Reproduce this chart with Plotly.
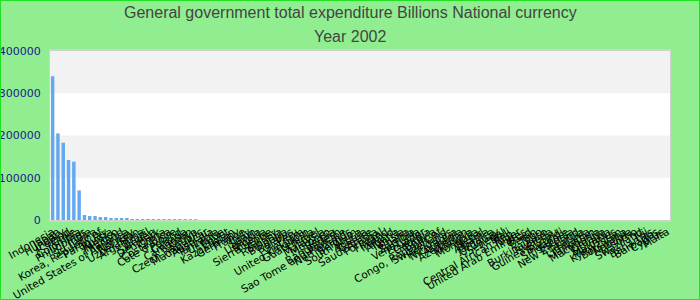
import plotly.graph_objects as go

countries = [
    "Indonesia", "Japan", "Hungary", "Iceland", "Chile", "Colombia", "Philippines", "India",
    "Sri Lanka", "Korea, Republic of", "Paraguay", "Russia", "Mexico", "Thailand",
    "United States of America", "Norway", "Uzbekistan", "Argentina", "Brazil", "Sweden",
    "Denmark", "China", "Costa Rica", "Cote d'Ivoire", "Poland", "Canada", "Cameroon", "Kenya",
    "Czech Republic", "Madagascar", "Australia", "Tanzania", "Ukraine", "Egypt", "Kazakhstan",
    "Germany", "France", "Italy", "Spain", "Uganda", "Nigeria", "Sierra Leone", "Turkey",
    "Romania", "Bulgaria", "Belarus", "Peru", "Vietnam", "United Kingdom", "Guatemala",
    "Israel", "Malaysia", "Morocco", "Serbia", "Bangladesh", "Sao Tome and Principe",
    "Netherlands", "Belgium", "South Africa", "Austria", "Greece", "Saudi Arabia", "Portugal",
    "Finland", "Ireland", "Algeria", "Tunisia", "Ghana", "Zambia", "Venezuela", "Ecuador",
    "Georgia", "Bolivia", "Congo, Republic of", "Switzerland", "Honduras", "Nicaragua",
    "Armenia", "Azerbaijan", "Moldova", "Mongolia", "Nepal", "Albania", "Jamaica", "Uruguay",
    "Senegal", "Mali", "Central African Rep.", "Niger", "United Arab Emirates", "Chad",
    "Benin", "Togo", "Burkina Faso", "Rwanda", "Guinea-Bissau", "Burundi", "Singapore",
    "Estonia", "New Zealand", "Latvia", "Lithuania", "Tajikistan", "Macedonia", "Croatia",
    "Slovakia", "Mauritius", "Kyrgyzstan", "Botswana", "Namibia", "Lesotho", "Swaziland",
    "Fiji", "Bahamas", "Barbados", "Cyprus", "Malta", "Trinidad and Tobago", "Kuwait", "Oman",
    "Bahrain", "Jordan", "Belize", "Bhutan", "Maldives", "Luxembourg", "Slovenia",
]

values = [
    340000, 205000, 183000, 142000, 138000, 70000, 11800, 9400,
    9400, 7000, 7000, 4700, 4700, 4700, 4700, 2400,
    2400, 2300, 2300, 2200, 2200, 2100, 2100, 2000,
    2000, 1900, 1900, 1800,
    150, 146, 142, 138, 134, 130, 126, 122, 118, 114,
    110, 107, 104, 101, 98, 95, 92, 89, 86, 83,
    80, 78, 76, 74, 72, 70, 68, 66, 64, 62,
    60, 58, 56, 54, 52, 50, 48, 46, 44, 42,
    40, 38, 36, 34, 32, 30, 28, 26, 24, 22,
    20, 19, 18, 17, 16, 15, 14, 13, 12, 11,
    10, 9.5, 9, 8.5, 8, 7.5, 7, 6.5, 6, 5.5,
    5, 4.5, 4, 3.6, 3.2, 2.8, 2.4, 2.0, 1.8, 1.6,
    1.4, 1.2, 1.0, 0.8, 0.6, 0.5, 0.4, 0.3, 0.2,
]

title_lines = ["General government total expenditure Billions National currency", "Year 2002"]
y_range = [0, 400000]
band_edges = [(100000, 200000), (300000, 400000)]

W, H = 700, 300
ML, MR, MT, MB = 50, 30, 51, 80
PW, PH = W - ML - MR, H - MT - MB

fig = go.Figure()
fig.add_trace(go.Bar(
    x=countries, y=values,
    marker=dict(color="rgba(100,168,240,0.999)", line=dict(width=0)),
    hoverinfo="x+y",
))

shapes = []
for lo, hi in band_edges:
    shapes.append(dict(type="rect", xref="paper", yref="y", x0=0, x1=1, y0=lo, y1=hi,
                       fillcolor="#f2f2f2", line=dict(width=0), layer="below"))
shapes.append(dict(type="rect", xref="paper", yref="paper",
                   x0=-ML / PW, x1=1 + MR / PW, y0=-MB / PH, y1=1 + MT / PH,
                   line=dict(color="#22e022", width=2), fillcolor="rgba(0,0,0,0)", layer="above"))

annotations = []
for text, py in zip(title_lines, [13, 36]):
    annotations.append(dict(
        text=text, showarrow=False,
        xref="paper", yref="paper",
        x=(W / 2 - ML) / PW, y=1 + (MT - py) / PH,
        xanchor="center", yanchor="middle",
        font=dict(family="Liberation Sans, Arial", size=16, color="#444444"),
    ))

fig.update_layout(
    width=W, height=H,
    margin=dict(l=ML, r=MR, t=MT, b=MB, autoexpand=False),
    paper_bgcolor="#90EE90",
    plot_bgcolor="#ffffff",
    showlegend=False,
    bargap=0.35,
    shapes=shapes,
    annotations=annotations,
    xaxis=dict(
        type="category",
        tickmode="array", tickvals=countries, ticktext=countries,
        tickangle=-30,
        tickfont=dict(family="DejaVu Sans", size=10.5, color="#000000"),
        showgrid=False, zeroline=False,
        showline=True, linecolor="#d0d0d0", linewidth=2, mirror=True,
        automargin=False, ticks="",
    ),
    yaxis=dict(
        range=y_range, dtick=100000, tickformat="d",
        tickfont=dict(family="DejaVu Sans", size=11, color="#1a1a8c"),
        showgrid=False, zeroline=False,
        showline=True, linecolor="#d0d0d0", linewidth=1, mirror=True,
        automargin=False, ticks="", ticklabelstandoff=6,
    ),
)

fig.write_html("out.html")
